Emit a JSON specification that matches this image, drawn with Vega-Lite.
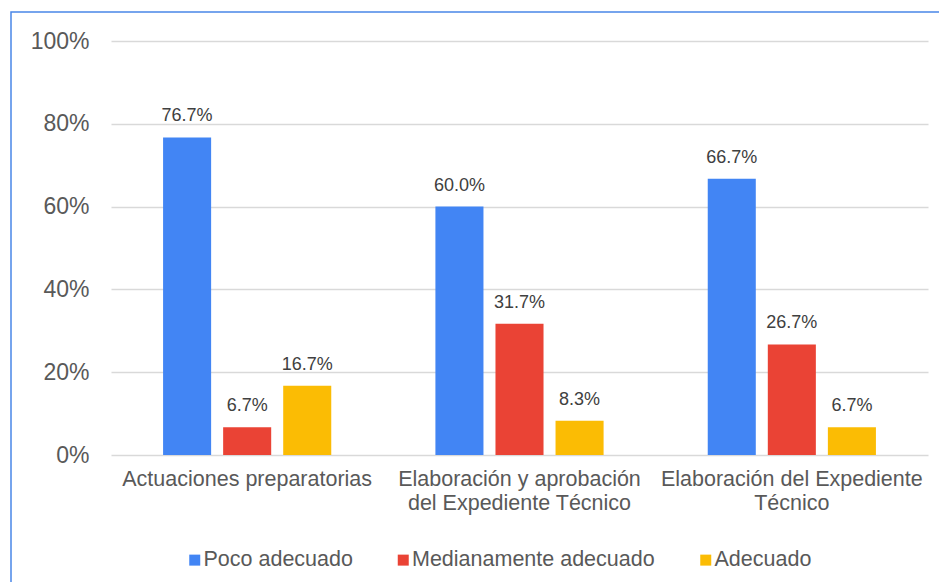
{
  "$schema": "https://vega.github.io/schema/vega-lite/v6.json",
  "width": 940,
  "height": 580,
  "autosize": {"type": "none"},
  "padding": {"left": 11, "top": 12, "right": 0, "bottom": 0},
  "background": "white",
  "config": {
    "view": {"stroke": "#4a86e8", "strokeWidth": 1.5},
    "font": "Liberation Sans"
  },
  "data": {
    "values": [
      {"categoria": "Actuaciones preparatorias", "nivel": "Poco adecuado", "porcentaje": 0.767},
      {"categoria": "Actuaciones preparatorias", "nivel": "Medianamente adecuado", "porcentaje": 0.067},
      {"categoria": "Actuaciones preparatorias", "nivel": "Adecuado", "porcentaje": 0.167},
      {"categoria": "Elaboración y aprobación del Expediente Técnico", "nivel": "Poco adecuado", "porcentaje": 0.6},
      {"categoria": "Elaboración y aprobación del Expediente Técnico", "nivel": "Medianamente adecuado", "porcentaje": 0.317},
      {"categoria": "Elaboración y aprobación del Expediente Técnico", "nivel": "Adecuado", "porcentaje": 0.083},
      {"categoria": "Elaboración del Expediente Técnico", "nivel": "Poco adecuado", "porcentaje": 0.667},
      {"categoria": "Elaboración del Expediente Técnico", "nivel": "Medianamente adecuado", "porcentaje": 0.267},
      {"categoria": "Elaboración del Expediente Técnico", "nivel": "Adecuado", "porcentaje": 0.067}
    ]
  },
  "encoding": {
    "x": {
      "field": "categoria",
      "type": "nominal",
      "sort": ["Actuaciones preparatorias", "Elaboración y aprobación del Expediente Técnico", "Elaboración del Expediente Técnico"],
      "scale": {"range": [100, 917], "paddingInner": 0, "paddingOuter": 0},
      "title": null,
      "axis": {
        "orient": "bottom",
        "offset": -137,
        "domain": false,
        "ticks": false,
        "grid": false,
        "labelAngle": 0,
        "labelPadding": 13,
        "labelFontSize": 21.5,
        "labelColor": "#595959",
        "labelLineHeight": 24,
        "labelLimit": 400,
        "labelOverlap": false,
        "labelExpr": "datum.label == 'Elaboración y aprobación del Expediente Técnico' ? ['Elaboración y aprobación', 'del Expediente Técnico'] : datum.label == 'Elaboración del Expediente Técnico' ? ['Elaboración del Expediente', 'Técnico'] : datum.label"
      }
    },
    "xOffset": {
      "field": "nivel",
      "type": "nominal",
      "sort": ["Poco adecuado", "Medianamente adecuado", "Adecuado"],
      "scale": {"paddingInner": 0.2, "paddingOuter": 0.867}
    },
    "y": {
      "field": "porcentaje",
      "type": "quantitative",
      "scale": {"domain": [0, 1], "range": [443, 29], "nice": false, "zero": true},
      "title": null,
      "axis": {
        "offset": -100,
        "values": [0, 0.2, 0.4, 0.6, 0.8, 1],
        "format": ".0%",
        "domain": false,
        "ticks": false,
        "tickSize": 0,
        "labelPadding": 22,
        "labelFontSize": 23,
        "labelColor": "#595959",
        "grid": true,
        "gridColor": "#d9d9d9",
        "gridWidth": 1.5
      }
    }
  },
  "layer": [
    {
      "mark": {"type": "bar"},
      "encoding": {
        "color": {
          "field": "nivel",
          "type": "nominal",
          "scale": {
            "domain": ["Poco adecuado", "Medianamente adecuado", "Adecuado"],
            "range": ["#4285F4", "#EA4335", "#FBBC04"]
          },
          "legend": {
            "title": null,
            "orient": "none",
            "direction": "horizontal",
            "legendX": 173,
            "legendY": 537,
            "padding": 0,
            "symbolType": "square",
            "symbolSize": 121,
            "symbolStrokeWidth": 0,
            "labelFontSize": 21.5,
            "labelColor": "#595959",
            "labelOffset": -2,
            "labelLimit": 400,
            "columnPadding": 39.5
          }
        }
      }
    },
    {
      "mark": {"type": "text", "dy": -16, "baseline": "alphabetic", "fontSize": 18, "color": "#404040"},
      "encoding": {
        "text": {"field": "porcentaje", "type": "quantitative", "format": ".1%"}
      }
    }
  ]
}
